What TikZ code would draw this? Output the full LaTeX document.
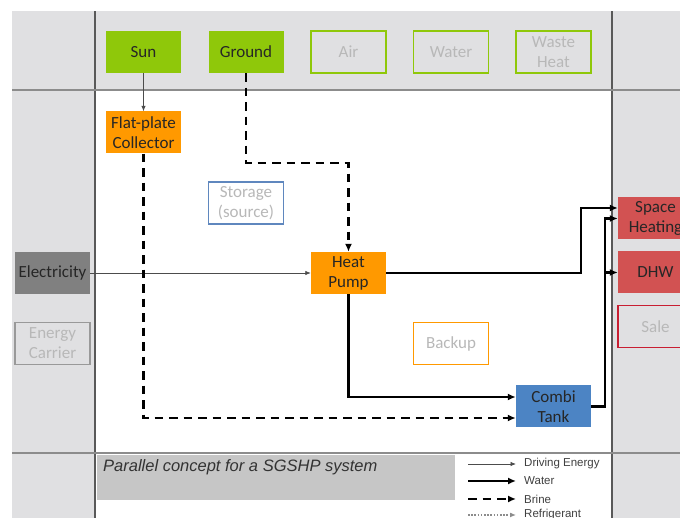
\documentclass[tikz,border=0pt]{standalone}
\usepackage{fontspec}
\setmainfont{Carlito}
\newfontfamily\arialfont{Liberation Sans}
\usepackage{tikz}
\usetikzlibrary{arrows.meta, positioning, calc}

\definecolor{srcgreen}{RGB}{143,200,10}
\definecolor{hporange}{RGB}{255,153,0}
\definecolor{tankblue}{RGB}{76,132,196}
\definecolor{storeblue}{RGB}{95,135,190}
\definecolor{sinkred}{RGB}{210,82,82}
\definecolor{saleline}{RGB}{200,30,50}
\definecolor{elecgray}{RGB}{128,128,128}
\definecolor{panelgray}{RGB}{224,224,226}
\definecolor{capgray}{RGB}{198,198,198}

\tikzset{
  box/.style={rectangle, minimum width=75pt, minimum height=42pt, inner sep=1pt,
    align=center, font=\fontsize{17}{20}\selectfont, text=black!85},
  filled/.style={box, fill=#1},
  faded/.style={box, draw=#1, line width=1.3pt, text=black!28},
  energy/.style={draw=black!70, line width=0.8pt, -{Latex[length=5.5pt,width=4.5pt]}},
  water/.style={draw=black, line width=2.2pt, -{Latex[length=8pt,width=7pt]}},
  brine/.style={water, dash pattern=on 8.5pt off 6pt},
  refrigerant/.style={draw=black!45, line width=1.6pt, dash pattern=on 1.6pt off 1.6pt,
    -{Latex[length=6pt,width=5pt]}},
  legendtext/.style={anchor=west, inner ysep=0pt, inner xsep=8pt,
    font=\arialfont\fontsize{11.5}{13}\selectfont, text=black!75},
  captiontext/.style={anchor=west, inner sep=0pt,
    font=\arialfont\itshape\fontsize{16.5}{19}\selectfont, text=black!80}
}

\begin{document}
\begin{tikzpicture}[node distance=102.5pt, on grid]
  \useasboundingbox (0,0) rectangle (680pt,518pt);

  % panels and grid lines
  \fill[panelgray] (12pt,0pt) rectangle (680pt,507pt);
  \fill[white] (95pt,0pt) rectangle (612pt,428pt);
  \fill[capgray] (97pt,18pt) rectangle (455pt,63pt);
  \draw[black!65, line width=1.2pt] (95pt,0pt) -- (95pt,507pt);
  \draw[black!65, line width=1.2pt] (612pt,0pt) -- (612pt,507pt);
  \draw[black!45, line width=1.2pt] (12pt,428pt) -- (680pt,428pt);
  \draw[black!45, line width=1.2pt] (12pt,65pt) -- (680pt,65pt);

  % sources
  \node[filled=srcgreen] (sun) at (143.5pt,466pt) {Sun};
  \node[filled=srcgreen] (ground) [right=of sun] {Ground};
  \node[faded=srcgreen] (air) [right=of ground] {Air};
  \node[faded=srcgreen] (water) [right=of air] {Water};
  \node[faded=srcgreen] (waste) [right=of water] {Waste\\Heat};

  % components
  \node[filled=hporange] (collector) [below=80.5pt of sun] {Flat-plate\\Collector};
  \node[faded=storeblue] (storage) [below=151pt of ground] {Storage\\(source)};
  \node[filled=hporange] (hp) [below=221pt of air] {Heat\\Pump};
  \node[faded=hporange] (backup) [below right=70.5pt and 102.5pt of hp] {Backup};
  \node[filled=tankblue] (combi) [below=354.5pt of waste] {Combi\\Tank};

  % final energy
  \node[filled=elecgray] (electricity) [left=296pt of hp] {Electricity};
  \node[faded=black!40] (carrier) [below=70.5pt of electricity] {Energy\\Carrier};

  % sinks
  \node[filled=sinkred] (space) at (655.5pt,299.5pt) {Space\\Heating};
  \node[filled=sinkred] (dhw) [below=54pt of space] {DHW};
  \node[faded=saleline] (sale) [below=54pt of dhw] {Sale};

  % flows
  \draw[energy] (sun) -- (collector);
  \draw[energy] (electricity) -- (hp);
  \draw[brine] (ground) -- ++(0,-111pt) -| (hp);
  \draw[brine] (collector) |- ([yshift=-11.5pt]combi.west);
  \draw[water] (hp.east) -- ++(195pt,0) |- ([yshift=10.5pt]space.west);
  \draw[water] (hp) |- ([yshift=9.5pt]combi.west);
  \draw[water] (combi.east) -- ++(14pt,0) coordinate (tee) |- (space);
  \draw[water] (tee) |- (dhw);

  % caption and legend
  \node[captiontext] (title) at (103pt,51pt) {Parallel concept for a SGSHP system};
  \coordinate (lgA) at (468pt,54pt);
  \coordinate (lgB) at (468pt,37pt);
  \coordinate (lgC) at (468pt,19pt);
  \coordinate (lgD) at (468pt,3pt);
  \node[legendtext] (lgAtext) at (516pt,54pt) {Driving Energy};
  \node[legendtext] (lgBtext) at (516pt,37pt) {Water};
  \node[legendtext] (lgCtext) at (516pt,19pt) {Brine};
  \node[legendtext] (lgDtext) at (516pt,3pt) {Refrigerant};
  \draw[energy] (lgA) -- (lgAtext);
  \draw[water] (lgB) -- (lgBtext);
  \draw[brine] (lgC) -- (lgCtext);
  \draw[refrigerant] (lgD) -- (lgDtext);
\end{tikzpicture}
\end{document}
